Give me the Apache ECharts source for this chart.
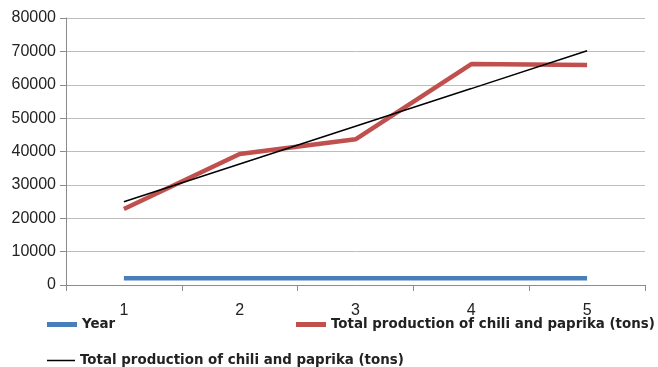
<!DOCTYPE html>
<html>
<head>
<meta charset="utf-8">
<script src="https://cdn.jsdelivr.net/npm/echarts@6/dist/echarts.min.js"></script>
<style>html,body{margin:0;padding:0;background:#fff}#c{width:658px;height:367px}</style>
</head>
<body>
<div id="c"></div>
<script>
var categories = ['1', '2', '3', '4', '5'];
var yearValues = [2010, 2011, 2012, 2013, 2014];
var productionValues = [22750, 39250, 43650, 66200, 65900];
var trendValues = [24950, 36250, 47550, 58850, 70200];
var yTicks = [0, 10000, 20000, 30000, 40000, 50000, 60000, 70000, 80000];
var seriesNames = ['Year', 'Total production of chili and paprika (tons)', 'Total production of chili and paprika (tons) trend'];
var legendText = 'Total production of chili and paprika (tons)';

var chart = echarts.init(document.getElementById('c'));
var legendFont = {fontFamily: 'DejaVu Sans', fontWeight: 'bold', fontSize: 13.4, color: '#222'};
chart.setOption({
  animation: false,
  grid: {left: 66, right: 13, top: 18, bottom: 82},
  legend: [
    {data: [seriesNames[0]], left: 47, top: 318, itemWidth: 30, itemHeight: 5, icon: 'rect', textStyle: legendFont, padding: 0},
    {data: [seriesNames[1]], left: 296, top: 318, itemWidth: 30, itemHeight: 5, icon: 'rect', textStyle: legendFont, padding: 0,
     formatter: function(){ return legendText; }},
    {data: [seriesNames[2]], left: 47, top: 354, itemWidth: 28, itemHeight: 1.5, icon: 'rect', textStyle: legendFont, padding: 0,
     formatter: function(){ return legendText; }}
  ],
  xAxis: {
    type: 'category',
    data: categories,
    boundaryGap: true,
    axisLine: {lineStyle: {color: '#8c8c8c', width: 1}},
    axisTick: {show: true, length: 6, lineStyle: {color: '#8c8c8c'}},
    axisLabel: {color: '#222', fontSize: 16, fontFamily: 'Liberation Sans', margin: 18}
  },
  yAxis: {
    type: 'value',
    min: yTicks[0],
    max: yTicks[yTicks.length - 1],
    interval: 10000,
    axisLine: {show: true, lineStyle: {color: '#8c8c8c', width: 1}},
    axisTick: {show: true, length: 6, lineStyle: {color: '#8c8c8c'}},
    splitLine: {lineStyle: {color: '#bdbdbd', width: 1}},
    axisLabel: {color: '#222', fontSize: 16, fontFamily: 'Liberation Sans', margin: 10,
      formatter: function(v){ return String(v); }}
  },
  series: [
    {name: seriesNames[0], type: 'line', data: yearValues, symbol: 'none',
     lineStyle: {color: '#4a7ebb', width: 4.5}, itemStyle: {color: '#4a7ebb'}},
    {name: seriesNames[1], type: 'line', data: productionValues, symbol: 'none',
     lineStyle: {color: '#c0504d', width: 4.5}, itemStyle: {color: '#c0504d'}},
    {name: seriesNames[2], type: 'line', data: trendValues, symbol: 'none', z: 3,
     lineStyle: {color: '#000', width: 1.5}, itemStyle: {color: '#000'}}
  ]
});
</script>
</body>
</html>
